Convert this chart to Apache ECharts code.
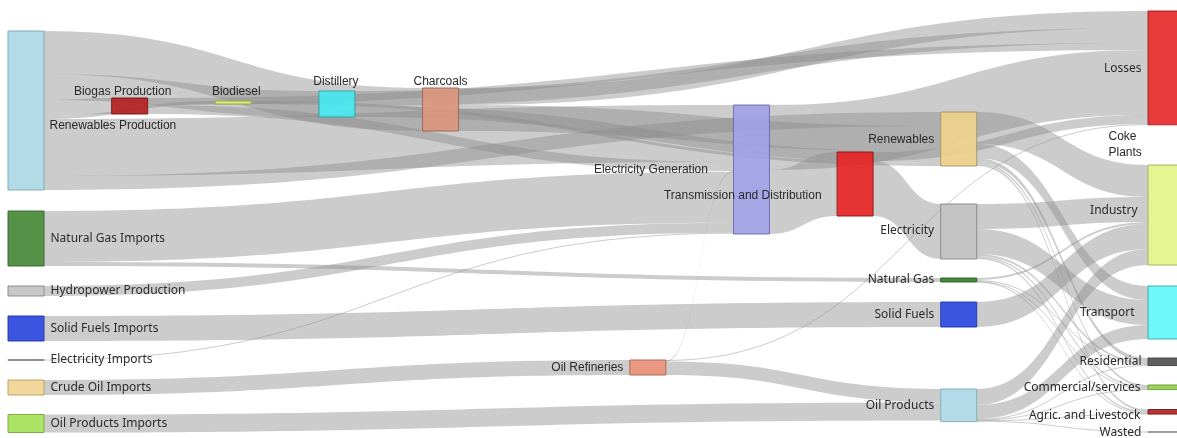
<!DOCTYPE html>
<html><head><meta charset="utf-8">
<script src="https://cdn.jsdelivr.net/npm/echarts@6/dist/echarts.min.js"></script>
<style>html,body{margin:0;padding:0;background:#fff}#chart{width:1177px;height:438px}</style>
</head><body><div id="chart"></div>
<script>
// ---------- DATA ----------
const sourceNodes = ['Renewables Production','Natural Gas Imports','Hydropower Production','Solid Fuels Imports','Electricity Imports','Crude Oil Imports','Oil Products Imports'];
const conversionNodes = ['Biogas Production','Biodiesel','Distillery','Charcoals','Oil Refineries','Electricity Generation','Transmission and Distribution'];
const carrierNodes = ['Renewables','Electricity','Natural Gas','Solid Fuels','Oil Products'];
const useNodes = ['Losses','Coke Plants','Industry','Transport','Residential','Commercial/services','Agric. and Livestock','Wasted'];

// [source, target, value]  (order matters for band stacking)
const upstreamFlows = [
  ['Renewables Production','Charcoals',43],
  ['Renewables Production','Distillery',26],
  ['Renewables Production','Biogas Production',16],
  ['Renewables Production','Biodiesel',3],
  ['Renewables Production','Electricity Generation',57],
  ['Renewables Production','Renewables',14],
  ['Charcoals','Losses',17],
  ['Charcoals','Renewables',26],
  ['Distillery','Losses',15],
  ['Distillery','Renewables',11],
  ['Biogas Production','Losses',7],
  ['Biogas Production','Electricity Generation',9],
  ['Biodiesel','Renewables',3]
];
const powerFlows = [
  ['Electricity Generation','Losses',65],
  ['Electricity Generation','Transmission and Distribution',64],
  ['Transmission and Distribution','Losses',9],
  ['Transmission and Distribution','Electricity',55],
  ['Oil Refineries','Losses',0.8],
  ['Oil Refineries','Electricity Generation',0.8],
  ['Oil Refineries','Oil Products',13.4],
  ['Natural Gas Imports','Electricity Generation',51],
  ['Natural Gas Imports','Natural Gas',4],
  ['Hydropower Production','Electricity Generation',10],
  ['Electricity Imports','Electricity Generation',0.8],
  ['Solid Fuels Imports','Solid Fuels',25],
  ['Crude Oil Imports','Oil Refineries',15],
  ['Oil Products Imports','Oil Products',18]
];
const finalFlows = [
  ['Renewables','Industry',32],
  ['Renewables','Transport',14],
  ['Renewables','Residential',4],
  ['Renewables','Commercial/services',2],
  ['Renewables','Agric. and Livestock',2],
  ['Electricity','Industry',25],
  ['Electricity','Transport',25],
  ['Electricity','Residential',2],
  ['Electricity','Commercial/services',1.5],
  ['Electricity','Agric. and Livestock',1.5],
  ['Natural Gas','Industry',2],
  ['Natural Gas','Residential',1],
  ['Natural Gas','Commercial/services',0.5],
  ['Natural Gas','Agric. and Livestock',0.5],
  ['Solid Fuels','Industry',25],
  ['Oil Products','Industry',16],
  ['Oil Products','Transport',14],
  ['Oil Products','Residential',0.6],
  ['Oil Products','Commercial/services',0.6],
  ['Oil Products','Agric. and Livestock',0.6],
  ['Oil Products','Wasted',0.8]
];

// ---------- LAYOUT & STYLE (not data) ----------
const CH_H = 438;
const A = "'Liberation Sans', Arial, sans-serif";
const T = "'Noto Sans', sans-serif";
const nodeStyle = {
  'Renewables Production': {d:0, y:31, c:'#add8e6', b:'#7fa9b6', lab:{position:'right', distance:5, offset:[0,15], fontFamily:A}},
  'Natural Gas Imports':   {d:0, y:211, c:'#4a8a3a', b:'#36682a', lab:{position:'right', distance:6}},
  'Hydropower Production': {d:0, y:286, c:'#c4c4c4', b:'#8a8a8a', lab:{position:'right', distance:6}},
  'Solid Fuels Imports':   {d:0, y:316, c:'#2e4ade', b:'#2238a8', lab:{position:'right', distance:6}},
  'Electricity Imports':   {d:0, y:359.6, c:'#888888', b:'#888888', lab:{position:'right', distance:6}},
  'Crude Oil Imports':     {d:0, y:380, c:'#f0d595', b:'#b89f60', lab:{position:'right', distance:6}},
  'Oil Products Imports':  {d:0, y:414.5, c:'#a8e25c', b:'#7aa83e', lab:{position:'right', distance:6}},
  'Biogas Production':     {d:1, y:98, c:'#b22222', b:'#7a1515', lab:{position:'top', distance:0, offset:[-7,0], fontFamily:A}},
  'Biodiesel':             {d:2, y:101, c:'#dfee7a', b:'#9aa84a', lab:{position:'top', distance:2.5, offset:[3,0], fontFamily:A}},
  'Distillery':            {d:3, y:91, c:'#48e6ee', b:'#2e9ea3', lab:{position:'top', distance:2.5, offset:[-1,0], fontFamily:A}},
  'Charcoals':             {d:4, y:88, c:'#d9957c', b:'#9a6552', lab:{position:'top', distance:0, fontFamily:A}},
  'Oil Refineries':        {d:6, y:360, c:'#e8937a', b:'#a86450', lab:{position:'left', distance:6, fontFamily:A}},
  'Electricity Generation':{d:7, y:105, c:'#a0a0e6', b:'#6c6cae', lab:{position:'left', distance:25, fontFamily:A}},
  'Transmission and Distribution': {d:8, y:152, c:'#e42626', b:'#8a1818', lab:{position:'left', distance:15, offset:[0,12], fontFamily:A}},
  'Renewables':            {d:9, y:112, c:'#ebd08c', b:'#a89460', lab:{position:'left', distance:6, offset:[0,1], fontFamily:A}},
  'Electricity':           {d:9, y:204, c:'#c0c0c0', b:'#858585', lab:{position:'left', distance:6, offset:[0,-1]}},
  'Natural Gas':           {d:9, y:278, c:'#3f7f30', b:'#2c5c20', lab:{position:'left', distance:6}},
  'Solid Fuels':           {d:9, y:302, c:'#2e4ade', b:'#2238a8', lab:{position:'left', distance:6}},
  'Oil Products':          {d:9, y:389, c:'#add8e6', b:'#7fa9b6', lab:{position:'left', distance:6}},
  'Losses':                {d:11, y:11, c:'#e62e2e', b:'#a02020', lab:{position:'left', distance:6, offset:[0,1]}},
  'Coke Plants':           {d:11, y:145, c:'rgba(0,0,0,0)', b:'rgba(0,0,0,0)', lab:{position:'left', distance:3, align:'left', offset:[-36,0], fontFamily:A, formatter:'Coke\nPlants', lineHeight:16}},
  'Industry':              {d:11, y:165, c:'#e2f48a', b:'#a2b060', lab:{position:'left', distance:10, offset:[0,-4]}},
  'Transport':             {d:11, y:286, c:'#66f8fc', b:'#3aa8ac', lab:{position:'left', distance:13}},
  'Residential':           {d:11, y:358, c:'#555555', b:'#444444', lab:{position:'left', distance:6}},
  'Commercial/services':   {d:11, y:385, c:'#98d04c', b:'#6a9a3a', lab:{position:'left', distance:7}},
  'Agric. and Livestock':  {d:11, y:409.5, c:'#b22626', b:'#7a1a1a', lab:{position:'left', distance:7, offset:[0,4]}},
  'Wasted':                {d:11, y:431.6, c:'#999999', b:'#999999', lab:{position:'left', distance:6, offset:[0,1]}}
};

const allNames = sourceNodes.concat(conversionNodes, carrierNodes, useNodes);
const allFlows = upstreamFlows.concat(powerFlows, finalFlows);

// node values (max of in/out) to compute the gap giving 1 px per unit
const inSum = {}, outSum = {};
allNames.forEach(n => { inSum[n] = 0; outSum[n] = 0; });
allFlows.forEach(([s, t, v]) => { outSum[s] += v; inSum[t] += v; });
const cols = {};
allNames.forEach(n => {
  const d = nodeStyle[n].d;
  (cols[d] = cols[d] || []).push(Math.max(inSum[n], outSum[n]));
});
let gap = Infinity;
Object.values(cols).forEach(vals => {
  if (vals.length > 1) {
    const s = vals.reduce((a, b) => a + b, 0);
    gap = Math.min(gap, (CH_H - s) / (vals.length - 1));
  }
});

const LEFT = 8, NODE_W = 36, COL_STEP = (1148 - 8) / 11;
const SERIES_W = COL_STEP * 11 + NODE_W;

const nodes = allNames.map(n => {
  const st = nodeStyle[n];
  return {
    name: n,
    depth: st.d,
    localY: st.y / CH_H,
    itemStyle: {color: st.c, borderColor: st.b, borderWidth: 1, opacity: 0.94},
    label: Object.assign({show: true, color: '#2a2a2a', fontFamily: T, fontSize: 12}, st.lab)
  };
});
const links = allFlows.map(([s, t, v]) => ({source: s, target: t, value: v}));

const chart = echarts.init(document.getElementById('chart'), null, {renderer: 'canvas'});
chart.setOption({
  backgroundColor: '#ffffff',
  animation: false,
  series: [{
    type: 'sankey',
    left: LEFT, top: 0, width: SERIES_W, height: CH_H,
    nodeWidth: NODE_W,
    nodeGap: gap,
    nodeAlign: 'left',
    layoutIterations: 0,
    draggable: false,
    emphasis: {disabled: true},
    data: nodes,
    links: links,
    lineStyle: {color: '#8a8a8a', opacity: 0.44, curveness: 0.5},
    label: {fontSize: 12, color: '#2a2a2a'}
  }]
});
</script></body></html>
